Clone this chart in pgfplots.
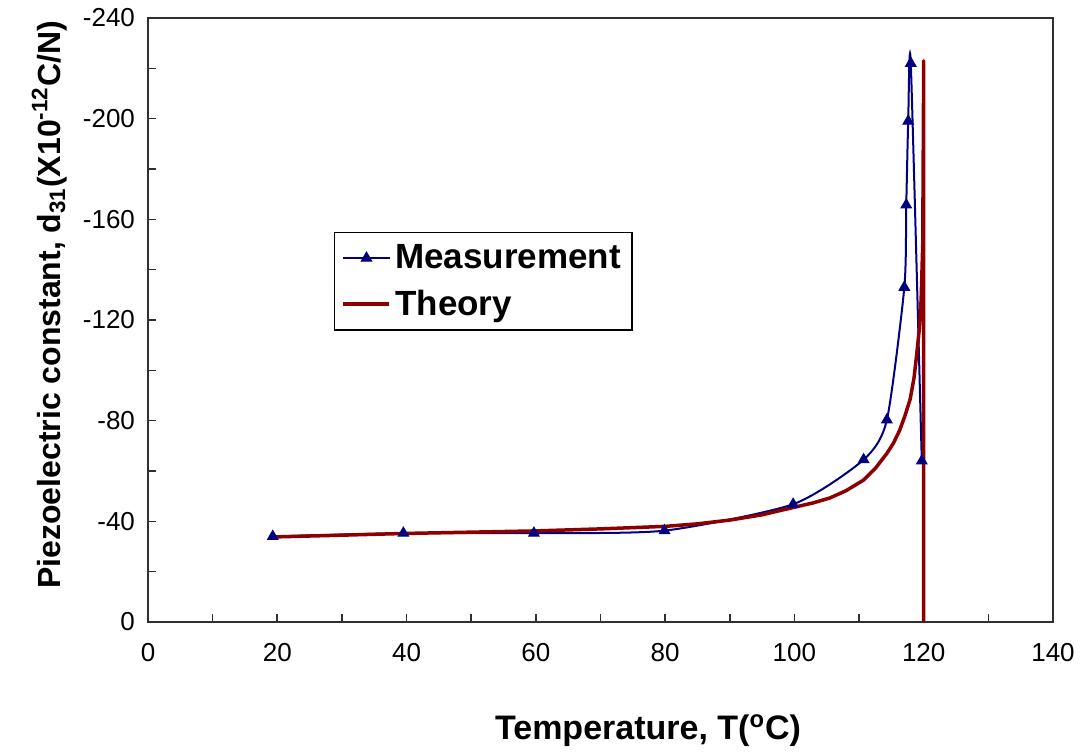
\documentclass[border=0pt]{standalone}
\usepackage{fontspec}
\setmainfont{Liberation Sans}
\usepackage{pgfplots}
\pgfplotsset{compat=1.18}
\definecolor{measblue}{HTML}{000080}
\definecolor{theored}{HTML}{8E0000}
\definecolor{axisgray}{HTML}{303030}

\begin{document}
\begin{tikzpicture}
\begin{axis}[
    scale only axis,
    width=452.5pt, height=302pt,
    xmin=0, xmax=140, ymin=-240, ymax=0,
    y dir=reverse,
    xtick={0,20,...,140}, minor xtick={10,30,...,130},
    ytick={-240,-200,...,0}, minor ytick={-220,-180,...,-20},
    tick align=inside,
    xtick pos=left, ytick pos=left,
    major tick length=4pt, minor tick length=4pt,
    axis line style={axisgray, line width=0.8pt},
    tick style={axisgray, line width=0.8pt},
    /pgf/number format/assume math mode=true,
    tick label style={font=\fontsize{13}{15}\selectfont},
    xticklabel style={yshift=-7pt},
    yticklabel style={xshift=-3pt},
    xlabel={\bfseries Temperature, T(\textsuperscript{o}C)},
    xlabel style={at={(axis description cs:0.5525,-0.152)}, anchor=north, inner sep=0pt, font=\fontsize{17}{20}\selectfont},
    ylabel={\bfseries Piezoelectric constant, d\textsubscript{31}(X10\textsuperscript{-12}C/N)},
    ylabel style={at={(axis description cs:-0.0972,0.525)}, anchor=base, inner sep=0pt, font=\fontsize{16}{19}\selectfont},
    legend style={at={(axis description cs:0.2055,0.646)}, anchor=north west,
      draw=black, line width=0.75pt, fill=white,
      font=\fontsize{17.5}{20}\selectfont\bfseries,
      inner xsep=3.5pt, inner ysep=4pt, row sep=5pt,
      /tikz/every even column/.append style={column sep=1pt}},
    legend cell align=left,
    legend image code/.code={\draw[mark repeat=2,mark phase=2,#1] plot coordinates {(0pt,0pt) (11.5pt,0pt) (23pt,0pt)};},
]
\coordinate (ll) at (axis description cs:0,0);
\coordinate (ur) at (axis description cs:1,1);

\addplot[measblue, line width=1pt, smooth, tension=0.4, mark=triangle*, mark size=3pt,
  mark options={fill=measblue, draw=measblue, line width=0.5pt}] coordinates {
  (19.3,-34) (39.5,-35.3) (59.7,-35.3) (79.9,-36.3) (99.8,-46.8)
  (110.7,-64.5) (114.3,-80.3) (117.0,-133) (117.3,-165.7) (117.6,-199)
  (118.0,-222) (119.7,-64)
};
\addlegendentry{Measurement}

\addplot[theored, line width=1.75pt, line join=round] coordinates {
  (19.5,-33.8) (30,-34.5) (40,-35.2) (50,-35.7) (60,-36.2) (70,-37)
  (80,-38) (85,-39) (90,-40.5) (95,-42.6) (97.8,-44.3) (100,-45.6)
  (103,-47.4) (105.5,-49.3) (108,-52.2) (110.7,-56.4) (112.5,-61)
  (114.3,-67) (115.3,-71) (116.3,-76.3) (117.1,-82) (117.9,-88.5)
  (118.5,-97) (118.9,-106) (119.3,-116) (119.6,-128) (119.85,-150)
  (120,-223) (120,0)
};
\addlegendentry{Theory}
\end{axis}
\pgfresetboundingbox
\path ([shift={(-74pt,-65.5pt)}]ll) rectangle ([shift={(16.5pt,9pt)}]ur);
\end{tikzpicture}
\end{document}
